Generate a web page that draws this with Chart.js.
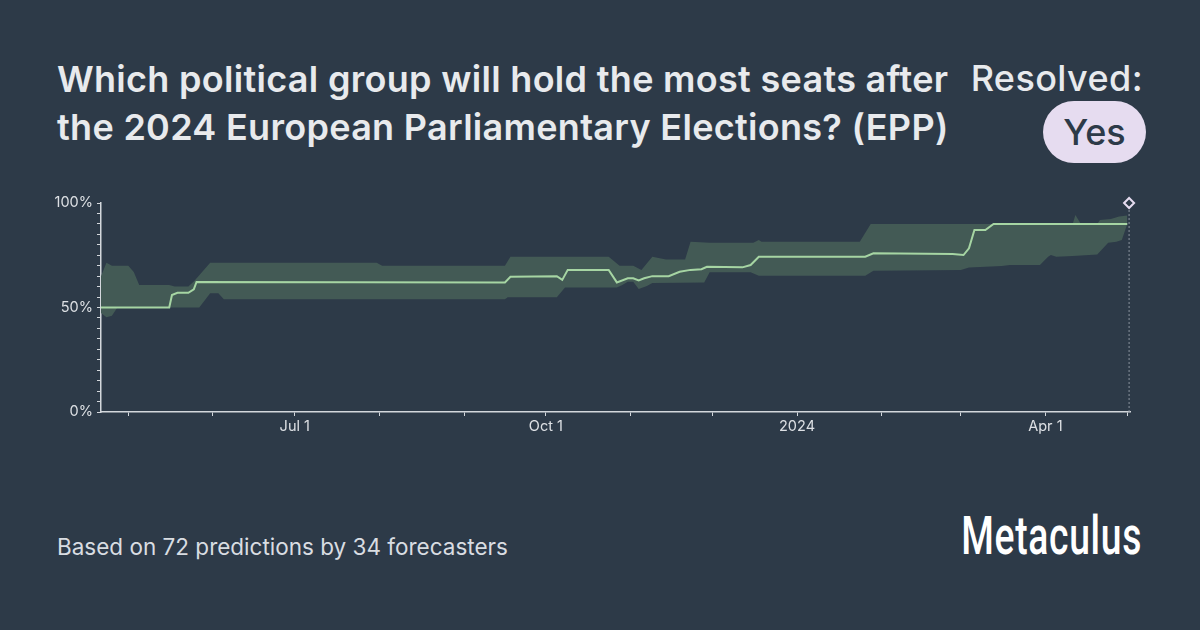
<!DOCTYPE html>
<html>
<head>
<meta charset="utf-8">
<script src="https://cdn.jsdelivr.net/npm/chart.js@4/dist/chart.umd.min.js"></script>
<style>
  html, body { margin: 0; padding: 0; }
  body { width: 1200px; height: 630px; background: #2d3a48; position: relative; overflow: hidden; font-family: Inter, "Noto Sans", sans-serif; color: #e8eaed; }
  .title { position: absolute; left: 57px; top: 55px; width: 910px; font-size: 36px; line-height: 48px; font-weight: 600; letter-spacing: 0.3px; }
  .resolved { position: absolute; right: 57px; top: 54px; font-size: 36px; line-height: 48px; font-weight: 500; letter-spacing: 0.4px; }
  .pill { position: absolute; left: 1043px; top: 101px; width: 103px; height: 62px; border-radius: 31px; background: #e6dcf0; color: #2d3a48; font-size: 36px; font-weight: 500; line-height: 62px; text-align: center; }
  .footer { position: absolute; left: 57px; top: 533px; font-size: 22.5px; line-height: 28px; color: #d9dde2; }
  .logo { position: absolute; right: 58px; top: 505px; font-family: Roboto, sans-serif; font-weight: 500; font-size: 54px; line-height: 62px; color: #ffffff; transform: scaleX(0.69); transform-origin: right center; letter-spacing: 1px; }
  #wrap { position: absolute; left: 40px; top: 190px; width: 1100px; height: 250px; }
</style>
</head>
<body>
<div class="title">Which political group will hold the most seats after the 2024 European Parliamentary Elections? (EPP)</div>
<div class="resolved">Resolved:</div>
<div class="pill">Yes</div>
<div class="footer">Based on 72 predictions by 34 forecasters</div>
<div class="logo">Metaculus</div>
<div id="wrap"><canvas id="chart"></canvas></div>

<script>
// community median
const medianDates = ["2023-04-21","2023-05-16","2023-05-17","2023-05-19","2023-05-23","2023-05-25","2023-05-26",
  "2023-09-16","2023-09-18","2023-10-05","2023-10-07","2023-10-09","2023-10-24","2023-10-27","2023-10-31",
  "2023-11-02","2023-11-04","2023-11-06","2023-11-09","2023-11-15","2023-11-19","2023-11-23","2023-11-27",
  "2023-11-29","2023-12-12","2023-12-15","2023-12-18","2024-01-26","2024-01-29","2024-02-27","2024-03-02",
  "2024-03-04","2024-03-06","2024-03-10","2024-03-13","2024-05-01"];
const medianValues = [50, 50, 56, 57, 57, 58.7, 62.2,
  62, 64.7, 65, 63.2, 68, 68, 62, 64,
  64, 63, 64, 65, 65, 67.1, 68, 68.3,
  69.5, 69.2, 70.3, 74.3, 74.3, 75.9, 75.6, 75.1,
  78.3, 87.1, 87.1, 90, 90];

// upper quartile
const upperDates = ["2023-04-21","2023-04-23","2023-04-25","2023-05-01","2023-05-03","2023-05-05","2023-05-16",
  "2023-05-18","2023-05-23","2023-05-25","2023-05-31","2023-07-31","2023-08-02","2023-09-16","2023-09-18",
  "2023-10-24","2023-10-28","2023-11-02","2023-11-05","2023-11-09","2023-11-14","2023-11-21","2023-11-23",
  "2023-11-30","2023-12-16","2023-12-18","2023-12-19","2024-01-24","2024-01-28","2024-04-11","2024-04-12",
  "2024-04-14","2024-04-20","2024-04-21","2024-04-25","2024-04-28","2024-05-01"];
const upperValues = [65, 71.4, 70, 70, 67, 60.8, 60.8,
  60, 60, 62.5, 71.4, 71.4, 70, 70, 74.3,
  74.3, 70, 70, 68, 74.3, 73, 73, 81.5,
  81, 81, 82.3, 81.5, 81.5, 90, 90, 94.3,
  90, 90, 91.9, 92.3, 93.5, 94];

// lower quartile
const lowerDates = ["2023-04-21","2023-04-23","2023-04-25","2023-04-27","2023-05-27","2023-05-31","2023-06-03",
  "2023-06-05","2023-09-16","2023-09-17","2023-10-05","2023-10-08","2023-10-27","2023-10-29","2023-10-31",
  "2023-11-02","2023-11-04","2023-11-07","2023-11-09","2023-11-28","2023-11-30","2023-12-15","2023-12-18",
  "2024-01-26","2024-01-29","2024-03-01","2024-03-04","2024-03-16","2024-03-19","2024-03-30","2024-04-02",
  "2024-04-03","2024-04-05","2024-04-11","2024-04-20","2024-04-24","2024-04-27","2024-04-29","2024-05-01"];
const lowerValues = [47.4, 45.3, 46, 50, 50, 56.8, 56.8,
  54, 54, 54.9, 54.9, 59.6, 59.6, 60.8, 62.3,
  62.3, 58.9, 60.3, 61.7, 62, 66.9, 66.9, 65.2,
  65.2, 67.6, 68, 69.1, 69.9, 70.3, 70.3, 74.3,
  75.1, 74.3, 74.7, 75.4, 81, 81.5, 82.3, 90];

const resolutionDate = "2024-05-01T16:00:00Z";
const resolutionValue = 100;
const rangeStart = "2023-04-21";
const rangeEnd = "2024-05-02";
const yTicks = [0, 50, 100];

const MONTHS = ["Jan","Feb","Mar","Apr","May","Jun","Jul","Aug","Sep","Oct","Nov","Dec"];
const t = s => Date.parse(s.length === 10 ? s + "T00:00:00Z" : s);
const pts = (ds, vs) => ds.map((d, i) => ({ x: t(d), y: vs[i] }));

const axisColor = "#d3d7dc";
const labelColor = "#dde0e4";

new Chart(document.getElementById("chart"), {
    type: "line",
    data: {
        datasets: [
            {
                label: "median",
                data: pts(medianDates, medianValues),
                borderColor: "#a6d5a3",
                borderWidth: 2,
                pointRadius: 0,
                tension: 0,
                fill: false,
                order: 0
            },
            {
                label: "upper",
                data: pts(upperDates, upperValues),
                borderWidth: 0,
                borderColor: "rgba(0,0,0,0)",
                backgroundColor: "#435a55",
                pointRadius: 0,
                tension: 0,
                fill: "+1",
                order: 2
            },
            {
                label: "lower",
                data: pts(lowerDates, lowerValues),
                borderWidth: 0,
                borderColor: "rgba(0,0,0,0)",
                pointRadius: 0,
                tension: 0,
                fill: false,
                order: 2
            },
            {
                label: "resolution line",
                data: [{ x: t(resolutionDate), y: 0 }, { x: t(resolutionDate), y: resolutionValue }],
                borderColor: "#8a939d",
                borderWidth: 1,
                borderDash: [2, 2],
                pointRadius: 0,
                fill: false,
                order: 1
            },
            {
                label: "resolution",
                type: "scatter",
                data: [{ x: t(resolutionDate), y: resolutionValue }],
                pointStyle: "rectRot",
                pointRadius: 5,
                borderColor: "#e6dcf0",
                borderWidth: 2,
                backgroundColor: "#2d3a48",
                clip: false,
                order: -1
            }
        ]
    },
    options: {
        responsive: true,
        maintainAspectRatio: false,
        animation: false,
        layout: { padding: { top: 13, right: 10, left: 0, bottom: 0 } },
        plugins: { legend: { display: false }, tooltip: { enabled: false } },
        scales: {
            x: {
                type: "linear",
                min: t(rangeStart),
                max: t(rangeEnd),
                afterBuildTicks: scale => {
                    const ticks = [];
                    const d = new Date(t(rangeStart));
                    let y = d.getUTCFullYear(), m = d.getUTCMonth() + 1;
                    while (true) {
                        const v = Date.UTC(y, m, 1);
                        if (v > scale.max) break;
                        ticks.push({ value: v });
                        m++; if (m > 11) { m = 0; y++; }
                    }
                    scale.ticks = ticks;
                },
                afterFit: scale => { scale.height = 28; },
                border: { display: true, color: axisColor, width: 1.5 },
                grid: { display: true, drawOnChartArea: false, tickLength: 4, tickColor: axisColor },
                ticks: {
                    color: labelColor,
                    font: { family: "Inter", size: 14.5 },
                    padding: 2,
                    maxRotation: 0,
                    autoSkip: false,
                    callback: v => {
                        const d = new Date(v);
                        const m = d.getUTCMonth();
                        if (m === 0) return String(d.getUTCFullYear());
                        if (m % 3 === 0) return MONTHS[m] + " 1";
                        return "";
                    }
                }
            },
            y: {
                min: 0,
                max: 100,
                afterBuildTicks: scale => {
                    const ticks = [];
                    for (let v = 0; v <= 100; v += 5) ticks.push({ value: v });
                    scale.ticks = ticks;
                },
                afterFit: scale => { scale.width = 61; },
                border: { display: true, color: axisColor, width: 1.5 },
                grid: { display: true, drawOnChartArea: false, tickLength: 4, tickColor: axisColor },
                ticks: {
                    color: labelColor,
                    font: { family: "Inter", size: 14.5 },
                    padding: 4,
                    autoSkip: false,
                    callback: v => yTicks.includes(v) ? v + "%" : ""
                }
            }
        }
    }
});
</script>
</body>
</html>
